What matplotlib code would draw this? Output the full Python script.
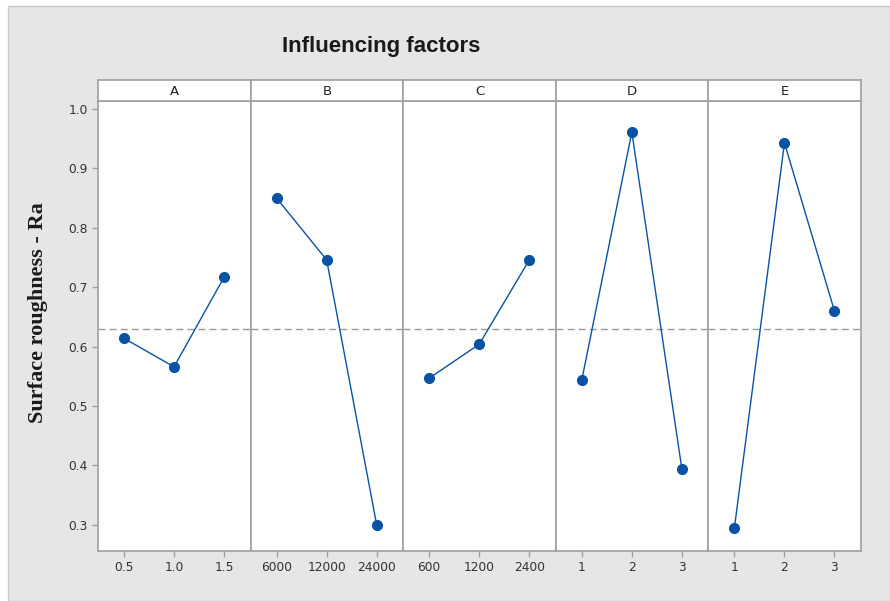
import matplotlib
matplotlib.use("Agg")
import matplotlib.pyplot as plt
from matplotlib.patches import Rectangle

factors = ["A", "B", "C", "D", "E"]
levels = [
    ["0.5", "1.0", "1.5"],
    ["6000", "12000", "24000"],
    ["600", "1200", "2400"],
    ["1", "2", "3"],
    ["1", "2", "3"],
]
means = [
    [0.614, 0.566, 0.717],
    [0.850, 0.746, 0.300],
    [0.547, 0.604, 0.746],
    [0.544, 0.961, 0.394],
    [0.295, 0.943, 0.660],
]
grand_mean = 0.630
yticks = [0.3, 0.4, 0.5, 0.6, 0.7, 0.8, 0.9, 1.0]

W, H = 890, 601
fig = plt.figure(figsize=(W / 100, H / 100), dpi=100)
fig.patch.set_facecolor("white")
fig.patches.append(Rectangle((8 / W, 0), 1 - 8 / W, 1 - 6 / H, transform=fig.transFigure,
                             facecolor="#e6e6e6", edgecolor="#c8c8c8", linewidth=1.0, zorder=-10))

left, right = 98 / W, 861 / W
bottom, top = 1 - 551 / H, 1 - 101 / H
strip_top = 1 - 80 / H
pw = (right - left) / len(factors)
spine_c = "#a0a0a0"
blue = "#0a52a3"

axes = []
for i, f in enumerate(factors):
    ax = fig.add_axes([left + i * pw, bottom, pw, top - bottom])
    ax.set_facecolor("white")
    x = list(range(len(levels[i])))
    ax.plot(x, means[i], color=blue, linewidth=1.0, marker="o", markersize=7, zorder=3)
    ax.set_xlim(-0.52, 2.53)
    ax.set_ylim(0.256, 1.0135)
    ax.set_xticks(x)
    ax.set_xticklabels(levels[i])
    ax.axhline(grand_mean, color="#999999", linestyle=(0, (5, 3)), linewidth=1.0, zorder=1)
    for s in ax.spines.values():
        s.set_color(spine_c)
        s.set_linewidth(1.2)
    ax.tick_params(axis="both", direction="out", length=4, color=spine_c, labelsize=8.8,
                   labelcolor="#333333", width=1)
    if i == 0:
        ax.set_yticks(yticks)
        ax.set_yticklabels([f"{v:.1f}" for v in yticks])
    else:
        ax.set_yticks([])
    axes.append(ax)

    sax = fig.add_axes([left + i * pw, top, pw, strip_top - top])
    sax.set_facecolor("white")
    sax.set_xticks([])
    sax.set_yticks([])
    for s in sax.spines.values():
        s.set_color(spine_c)
        s.set_linewidth(1.2)
    sax.text(0.5, 0.45, f, ha="center", va="center", fontsize=9.5, color="#222222",
             transform=sax.transAxes)

fig.text(381 / W, 1 - 52 / H, "Influencing factors", ha="center", va="baseline",
         fontsize=16, fontweight="bold", family="Liberation Sans", color="#1a1a1a")
fig.text(38 / W, 1 - 313 / H, "Surface roughness - Ra", ha="center", va="center",
         rotation=90, fontsize=16, fontweight="bold", family="Liberation Serif", color="#1a1a1a")

fig.savefig("out.png", dpi=100)
